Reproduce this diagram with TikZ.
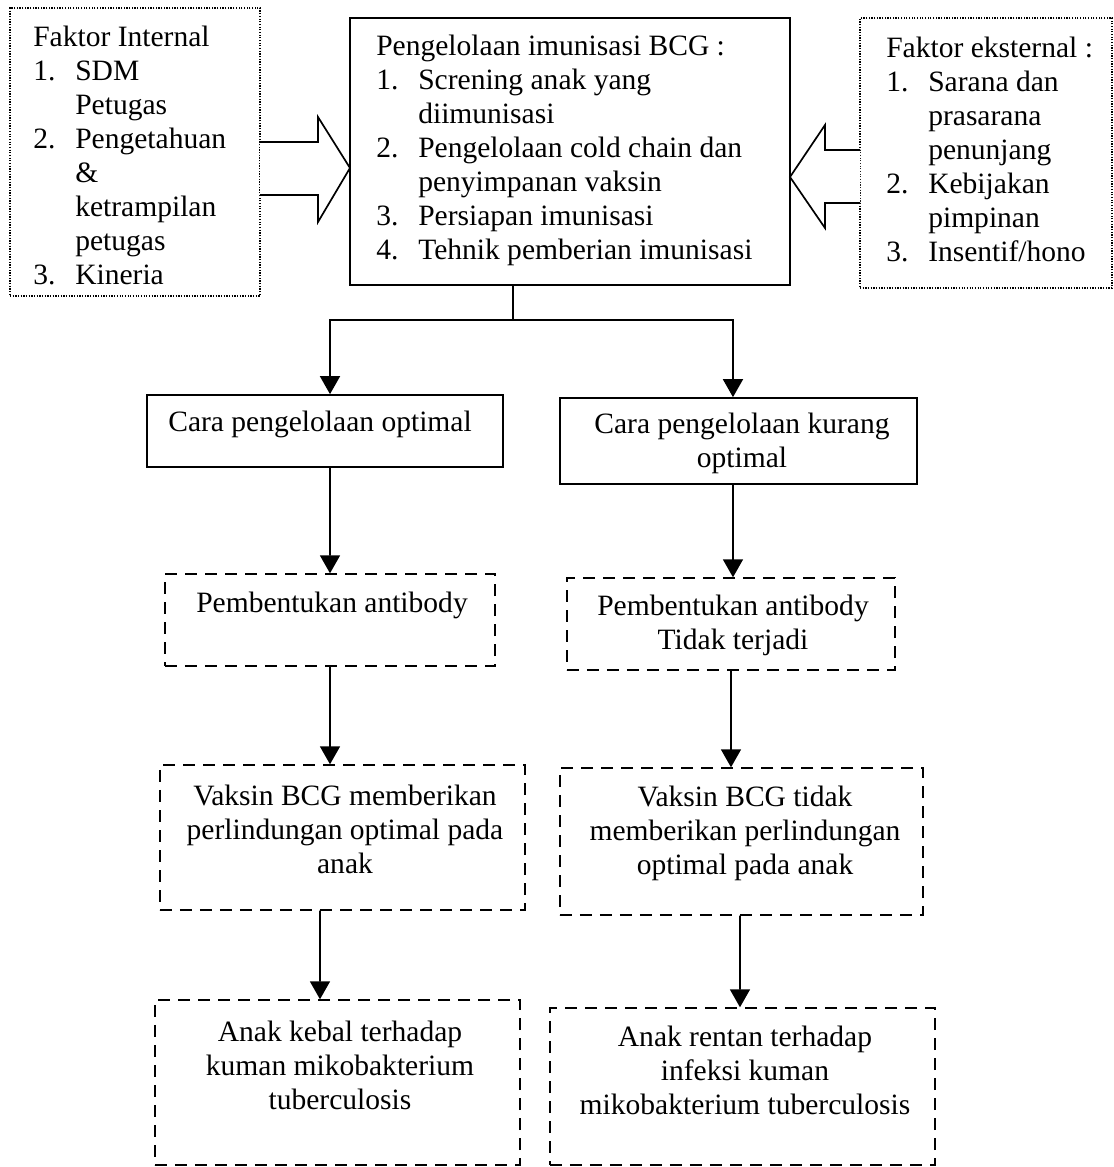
\documentclass[tikz,border=0pt]{standalone}
\usepackage{fontspec}
\setmainfont{Liberation Serif}
\usetikzlibrary{positioning, arrows.meta}

\begin{document}
\begin{tikzpicture}[x=0.025cm, y=-0.025cm,
  every node/.style={font=\fontsize{21}{24.2}\selectfont},
  box/.style={draw, line width=1.2pt, inner sep=0},
  dotbox/.style={draw, densely dotted, line width=0.9pt, inner sep=0},
  dashbox/.style={draw, dash pattern=on 0.3cm off 0.2cm, line width=1pt, inner sep=0},
  arr/.style={line width=1.2pt, -{Triangle[length=0.45cm, width=0.5cm]}},
  txt/.style={align=center, inner sep=0}]
  \useasboundingbox (0,0) rectangle (1114,1167);

  % top row
  \node[dotbox, minimum width=6.25cm, minimum height=7.2cm] (intl) at (135,152) {};
  \node[box, minimum width=11cm, minimum height=6.675cm] (main) at (570,151.5) {};
  \node[dotbox, minimum width=6.3cm, minimum height=6.75cm] (extl) at (986,153) {};

  \node[anchor=north west, inner sep=0] (intltxt) at (33,22) {%
    \begin{tabular}{@{}p{1.05cm}@{}l@{}}
      \multicolumn{2}{@{}l@{}}{Faktor Internal}\\
      1. & SDM\\
         & Petugas\\
      2. & Pengetahuan\\
         & \&\\
         & ketrampilan\\
         & petugas\\
      3. & Kineria
    \end{tabular}};
  \node[anchor=north west, inner sep=0] (maintxt) at (376,31) {%
    \begin{tabular}{@{}p{1.05cm}@{}l@{}}
      \multicolumn{2}{@{}l@{}}{Pengelolaan imunisasi BCG :}\\
      1. & Screning anak yang\\
         & diimunisasi\\
      2. & Pengelolaan cold chain dan\\
         & penyimpanan vaksin\\
      3. & Persiapan imunisasi\\
      4. & Tehnik pemberian imunisasi
    \end{tabular}};
  \node[anchor=north west, inner sep=0] (extltxt) at (886,33) {%
    \begin{tabular}{@{}p{1.05cm}@{}l@{}}
      \multicolumn{2}{@{}l@{}}{Faktor eksternal :}\\
      1. & Sarana dan\\
         & prasarana\\
         & penunjang\\
      2. & Kebijakan\\
         & pimpinan\\
      3. & Insentif/hono
    \end{tabular}};

  % block arrows
  \draw[line width=1.2pt, fill=white] (260,142) -- (318,142) -- (318,117) -- (350,168)
    -- (318,222) -- (318,195) -- (260,195);
  \draw[line width=1.2pt, fill=white] (860,150) -- (825,150) -- (825,125) -- (790,177)
    -- (825,228) -- (825,203) -- (860,203);

  % left column
  \node[box, minimum width=8.9cm, minimum height=1.8cm] (opt) at (325,431) {};
  \node[dashbox, minimum width=8.25cm, minimum height=2.3cm] (ab1) at (330,620) {};
  \node[dashbox, minimum width=9.125cm, minimum height=3.625cm] (vk1) at (342.5,837.5) {};
  \node[dashbox, minimum width=9.125cm, minimum height=4.125cm] (an1) at (337.5,1082.5) {};

  % right column
  \node[box, minimum width=8.925cm, minimum height=2.15cm] (kur) at (738.5,441) {};
  \node[dashbox, minimum width=8.2cm, minimum height=2.3cm] (ab2) at (731,624) {};
  \node[dashbox, minimum width=9.075cm, minimum height=3.675cm] (vk2) at (741.5,841.5) {};
  \node[dashbox, minimum width=9.625cm, minimum height=3.925cm] (an2) at (742.5,1086.5) {};

  \node[txt] at (320,424) {Cara pengelolaan optimal};
  \node[txt] at (742,443) {Cara pengelolaan kurang\\optimal};
  \node[txt] at (332,605) {Pembentukan antibody};
  \node[txt] at (733,625) {Pembentukan antibody\\Tidak terjadi};
  \node[txt] at (345,829) {Vaksin BCG memberikan\\perlindungan optimal pada\\anak};
  \node[txt] at (745,833) {Vaksin BCG tidak\\memberikan perlindungan\\optimal pada anak};
  \node[txt] at (340,1065) {Anak kebal terhadap\\kuman mikobakterium\\tuberculosis};
  \node[txt] at (745,1070) {Anak rentan terhadap\\infeksi kuman\\mikobakterium tuberculosis};

  % connectors
  \coordinate (split) at (513,320);
  \draw[line width=1.2pt] ([xshift=-1.425cm]main.south) -- (split);
  \draw[arr] (split) -| ([xshift=0.125cm]opt.north);
  \draw[arr] (split) -| ([xshift=-0.138cm]kur.north);
  \draw[arr] ([xshift=0.125cm]opt.south) -- (ab1.north);
  \draw[arr] (ab1.south) -- (ab1.south |- vk1.north);
  \draw[arr] ([xshift=-0.563cm]vk1.south) -- ([xshift=-0.438cm]an1.north);
  \draw[arr] ([xshift=-0.138cm]kur.south) -- ([xshift=-0.138cm]kur.south |- ab2.north);
  \draw[arr] (ab2.south) -- (ab2.south |- vk2.north);
  \draw[arr] ([xshift=-0.038cm]vk2.south) -- ([xshift=-0.063cm]an2.north);
\end{tikzpicture}
\end{document}
